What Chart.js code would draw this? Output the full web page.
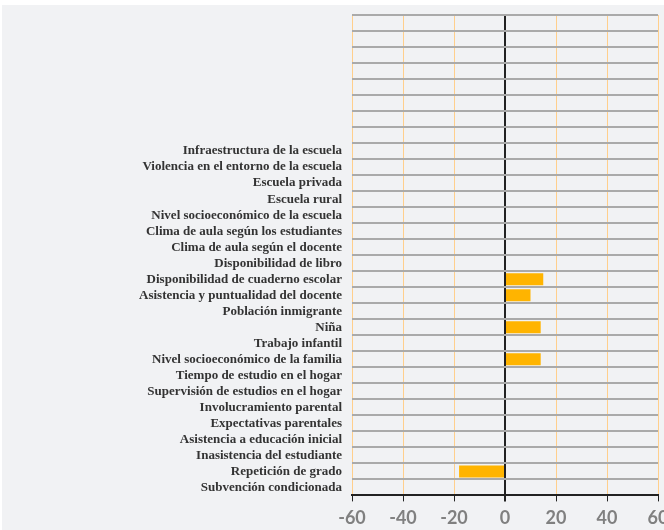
<!DOCTYPE html>
<html>
<head>
<meta charset="utf-8">
<script src="https://cdn.jsdelivr.net/npm/chart.js@4"></script>
<style>
  html, body { margin: 0; padding: 0; background: #ffffff; overflow: hidden; }
  #wrap { position: absolute; left: 2px; top: 5px; width: 700px; height: 530px; background: #f1f2f4; }
</style>
</head>
<body>
<div id="wrap"><canvas id="factorsChart"></canvas></div>
<script>
// 8 empty rows on top, then the factors
const categories = [
    '', '', '', '', '', '', '', '',
    'Infraestructura de la escuela',
    'Violencia en el entorno de la escuela',
    'Escuela privada',
    'Escuela rural',
    'Nivel socioeconómico de la escuela',
    'Clima de aula según los estudiantes',
    'Clima de aula según el docente',
    'Disponibilidad de libro',
    'Disponibilidad de cuaderno escolar',
    'Asistencia y puntualidad del docente',
    'Población inmigrante',
    'Niña',
    'Trabajo infantil',
    'Nivel socioeconómico de la familia',
    'Tiempo de estudio en el hogar',
    'Supervisión de estudios en el hogar',
    'Involucramiento parental',
    'Expectativas parentales',
    'Asistencia a educación inicial',
    'Inasistencia del estudiante',
    'Repetición de grado',
    'Subvención condicionada'
];

const effects = [
    null, null, null, null, null, null, null, null,
    null, null, null, null, null, null, null, null,
    15, 10, null, 14, null, 14,
    null, null, null, null, null, null, -18, null
];

const xTicks = [-60, -40, -20, 0, 20, 40, 60];

const ctx = document.getElementById('factorsChart').getContext('2d');

const chart = new Chart(ctx, {
    type: 'bar',
    data: {
        labels: categories,
        datasets: [{
            data: effects,
            backgroundColor: '#ffb400',
            borderWidth: 0,
            barPercentage: 0.75,
            categoryPercentage: 1
        }]
    },
    options: {
        indexAxis: 'y',
        responsive: true,
        maintainAspectRatio: false,
        animation: false,
        layout: { padding: { top: 10, right: 44, bottom: 0, left: 0 } },
        plugins: {
            legend: { display: false },
            tooltip: { enabled: false }
        },
        scales: {
            x: {
                min: xTicks[0],
                max: xTicks[xTicks.length - 1],
                afterBuildTicks: (scale) => {
                    scale.ticks = xTicks.map(v => ({ value: v }));
                },
                grid: {
                    color: (c) => c.tick && c.tick.value === 0 ? '#222222' : '#ffcf8c',
                    lineWidth: (c) => c.tick && c.tick.value === 0 ? 2 : 1,
                    tickColor: '#222222',
                    tickLength: 6
                },
                border: { display: true, color: '#222222', width: 2 },
                ticks: {
                    color: '#808080',
                    padding: 6,
                    font: { family: 'Lato', size: 18, weight: 'bold' }
                }
            },
            y: {
                grid: {
                    color: '#aaaaaa',
                    lineWidth: 2,
                    offset: true,
                    drawTicks: false
                },
                border: { display: false },
                afterFit: (scale) => {
                    scale.width = 350;
                    scale.paddingTop = 0;
                    scale.paddingBottom = 0;
                },
                ticks: {
                    color: '#333333',
                    padding: 10,
                    autoSkip: false,
                    font: { family: 'Liberation Serif', size: 13, weight: 'bold' }
                }
            }
        }
    }
});
</script>
</body>
</html>
